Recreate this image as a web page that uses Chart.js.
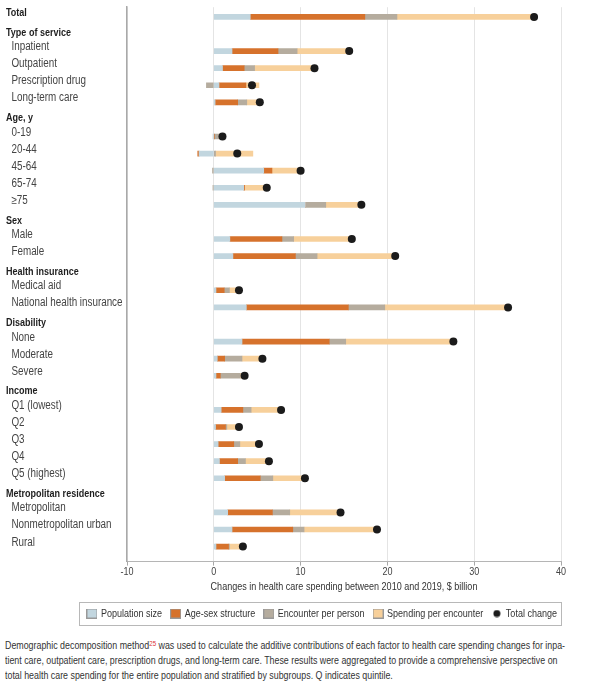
<!DOCTYPE html>
<html>
<head>
<meta charset="utf-8">
<script src="https://cdn.jsdelivr.net/npm/chart.js@4.4.0/dist/chart.umd.min.js"></script>
<style>
  body { margin: 0; background: #fff; overflow: hidden; font-family: 'Liberation Sans', Arial, sans-serif; }
  #wrap { width: 598px; height: 632px; position: relative; }
  .note { margin: 6px 0 0 5px; font-size: 10.8px; line-height: 15px; color: #333; white-space: nowrap;
          transform: scaleX(0.82); transform-origin: left top; }
  .note sup { color: #d33; font-size: 7.5px; vertical-align: 3px; line-height: 0; }
</style>
</head>
<body>
<div id="wrap"><canvas id="chart"></canvas></div>
<div class="note">Demographic decomposition method<sup>25</sup> was used to calculate the additive contributions of each factor to health care spending changes for inpa-<br>tient care, outpatient care, prescription drugs, and long-term care. These results were aggregated to provide a comprehensive perspective on<br>total health care spending for the entire population and stratified by subgroups. Q indicates quintile.</div>
<script>
// Rows top to bottom (group headers have no data)
const rowLabels = [
  'Total',
  'Type of service', '  Inpatient', '  Outpatient', '  Prescription drug', '  Long-term care',
  'Age, y', '  0-19', '  20-44', '  45-64', '  65-74', '  \u226575',
  'Sex', '  Male', '  Female',
  'Health insurance', '  Medical aid', '  National health insurance',
  'Disability', '  None', '  Moderate', '  Severe',
  'Income', '  Q1 (lowest)', '  Q2', '  Q3', '  Q4', '  Q5 (highest)',
  'Metropolitan residence', '  Metropolitan', '  Nonmetropolitan urban', '  Rural'
];
const boldRows = new Set([0, 1, 6, 12, 15, 18, 22, 28]);
const headerRows = new Set([1, 6, 12, 15, 18, 22, 28]);

// $ billion, 2010 -> 2019
const popSize     = [4.2, null, 2.1, 1.0, 0.6, 0.15, null, -0.1, -1.7, 5.75, 3.45, 10.55, null, 1.85, 2.2, null, 0.25, 3.75, null, 3.25, 0.4, 0.25, null, 0.85, 0.2, 0.5, 0.65, 1.25, null, 1.6, 2.1, 0.25];
const ageSex      = [13.2, null, 5.3, 2.5, 3.1, 2.6, null, 0.05, -0.15, 0.95, 0.1, 0, null, 6.0, 7.2, null, 0.95, 11.75, null, 10.05, 0.85, 0.5, null, 2.5, 1.15, 1.8, 2.1, 4.1, null, 5.15, 7.0, 1.45];
const encounter   = [3.7, null, 2.2, 1.2, -0.85, 1.05, null, 0.6, 0.2, -0.15, -0.1, 2.35, null, 1.35, 2.5, null, 0.6, 4.2, null, 1.9, 2.0, 2.3, null, 0.95, 0.15, 0.7, 0.9, 1.45, null, 2.0, 1.3, 0.1];
const spending    = [15.8, null, 6.0, 6.9, 1.5, 1.5, null, 0.45, 4.3, 3.4, 2.6, 4.1, null, 6.7, 9.0, null, 1.1, 14.2, null, 12.4, 2.35, 0.5, null, 3.45, 1.4, 2.2, 2.7, 3.7, null, 5.85, 8.4, 1.55];
const totalChange = [36.9, null, 15.6, 11.6, 4.4, 5.3, null, 1.0, 2.7, 10.0, 6.1, 17.0, null, 15.9, 20.9, null, 2.9, 33.9, null, 27.6, 5.6, 3.55, null, 7.75, 2.9, 5.2, 6.35, 10.5, null, 14.6, 18.8, 3.35];

const xTicks = [-10, 0, 10, 20, 30, 40];

const colors = {
  pop: '#c2d6df',
  ageSex: '#d6722c',
  encounter: '#b5ac9e',
  spending: '#f7d09b',
  total: '#1b1b1b'
};

Chart.defaults.font.family = "'Liberation Sans', Arial, sans-serif";
Chart.defaults.color = '#333';

// No narrow font installed: squeeze canvas text horizontally instead
const canvas = document.getElementById('chart');
const ctx2d = canvas.getContext('2d');
const squeeze = 0.82;
const rawFill = ctx2d.fillText.bind(ctx2d);
const rawMeasure = ctx2d.measureText.bind(ctx2d);
ctx2d.fillText = function (text, x, y) {
  this.save();
  this.translate(x, y);
  this.scale(squeeze, 1);
  rawFill(text, 0, 0);
  this.restore();
};
ctx2d.measureText = function (text) {
  const m = rawMeasure(text);
  return {
    width: m.width * squeeze,
    actualBoundingBoxAscent: m.actualBoundingBoxAscent,
    actualBoundingBoxDescent: m.actualBoundingBoxDescent,
    actualBoundingBoxLeft: m.actualBoundingBoxLeft * squeeze,
    actualBoundingBoxRight: m.actualBoundingBoxRight * squeeze
  };
};

function toPoints(arr) {
  return arr.map((v, i) => v === null ? null : { x: v, y: i }).filter(p => p);
}

function swatch(color) {
  const c = document.createElement('canvas');
  c.width = 11; c.height = 10;
  const g = c.getContext('2d');
  g.fillStyle = color;
  g.fillRect(0, 0, 11, 10);
  g.strokeStyle = '#999';
  g.lineWidth = 1;
  g.strokeRect(0.5, 0.5, 10, 9);
  return c;
}

function dotIcon(color) {
  const c = document.createElement('canvas');
  c.width = 8; c.height = 8;
  const g = c.getContext('2d');
  g.fillStyle = color;
  g.beginPath();
  g.arc(4, 4, 3.5, 0, Math.PI * 2);
  g.fill();
  return c;
}

function barSet(label, data, color) {
  return {
    type: 'bar',
    label: label,
    data: toPoints(data),
    backgroundColor: color,
    borderWidth: 0,
    barThickness: 5,
    legendIcon: swatch(color)
  };
}

const datasets = [
  barSet('Population size', popSize, colors.pop),
  barSet('Age-sex structure', ageSex, colors.ageSex),
  barSet('Encounter per person', encounter, colors.encounter),
  barSet('Spending per encounter', spending, colors.spending),
  {
    type: 'scatter',
    label: 'Total change',
    data: toPoints(totalChange),
    stack: 'total',
    order: -1,
    pointRadius: 4,
    pointHoverRadius: 4,
    backgroundColor: colors.total,
    borderWidth: 0,
    legendIcon: dotIcon(colors.total)
  }
];

// nudge the legend right and draw a border round it
const legendFrame = {
  id: 'legendFrame',
  afterLayout(chart) {
    chart.legend.left += 6;
    chart.legend.right += 6;
  },
  afterDraw(chart) {
    const boxes = chart.legend.legendHitBoxes;
    if (!boxes || !boxes.length) return;
    const first = boxes[0];
    const last = boxes[boxes.length - 1];
    const ctx = chart.ctx;
    ctx.save();
    ctx.strokeStyle = '#b8b8b8';
    ctx.lineWidth = 1;
    const left = Math.round(first.left - 9.5) + 0.5;
    const right = Math.round(last.left + last.width + 4) + 0.5;
    const top = Math.round(first.top - 6.5) + 0.5;
    ctx.strokeRect(left, top, right - left, 23);
    ctx.restore();
  }
};

const isBold = (c) => c.tick && boldRows.has(Math.round(c.tick.value));

new Chart(canvas, {
  type: 'bar',
  data: { datasets: datasets },
  plugins: [legendFrame],
  options: {
    indexAxis: 'y',
    responsive: true,
    maintainAspectRatio: false,
    animation: false,
    layout: { padding: { left: 6, right: 37, top: 7, bottom: 3 } },
    scales: {
      x: {
        type: 'linear',
        stacked: true,
        min: -10,
        max: 40,
        afterBuildTicks: (scale) => { scale.ticks = xTicks.map(v => ({ value: v })); },
        grid: { color: '#e4e4e4', tickLength: 4, tickColor: '#a8a8a8' },
        border: { color: '#b5b5b5' },
        ticks: { padding: 0, color: '#444', font: { size: 11 } },
        title: {
          display: true,
          text: 'Changes in health care spending between 2010 and 2019, $ billion',
          color: '#333',
          font: { size: 11 },
          padding: { top: 2, bottom: 4 }
        }
      },
      y: {
        type: 'linear',
        stacked: true,
        reverse: true,
        offset: false,
        min: -0.57,
        max: 31.88,
        afterBuildTicks: (scale) => {
          scale.ticks = rowLabels.map((_, i) => ({ value: headerRows.has(i) ? i + 0.17 : i }));
        },
        afterFit: (scale) => { scale.width = 121; },
        grid: { display: false, drawTicks: false },
        border: { color: '#a9a9a9', width: 1.5 },
        ticks: {
          autoSkip: false,
          crossAlign: 'far',
          padding: 0,
          labelOffset: -4.3,
          callback: (v) => rowLabels[Math.round(v)],
          color: (c) => isBold(c) ? '#1e1e1e' : '#444',
          font: (c) => isBold(c) ? { size: 11, weight: 'bold' } : { size: 12, weight: 'normal' }
        }
      }
    },
    plugins: {
      tooltip: { enabled: false },
      legend: {
        position: 'bottom',
        align: 'end',
        labels: {
          usePointStyle: true,
          boxWidth: 7,
          boxHeight: 10,
          padding: 10,
          font: { size: 11 },
          generateLabels: (chart) => chart.data.datasets.map((ds, i) => ({
            text: ds.label,
            pointStyle: ds.legendIcon,
            datasetIndex: i,
            hidden: false,
            lineWidth: 0,
            fontColor: '#333',
            fillStyle: ds.backgroundColor,
            strokeStyle: 'transparent'
          }))
        }
      }
    }
  }
});
</script>
</body>
</html>
